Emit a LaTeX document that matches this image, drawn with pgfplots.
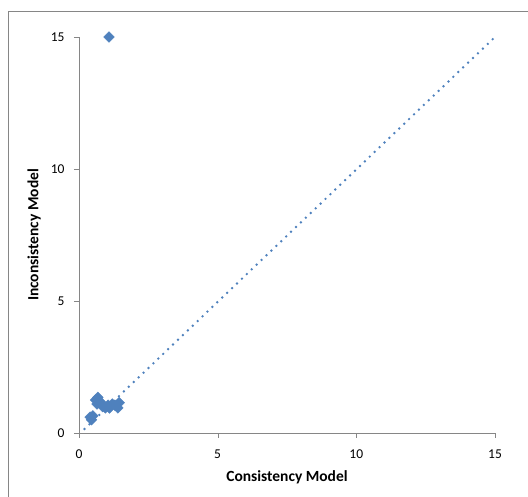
\documentclass[border=0pt]{standalone}
\usepackage{fontspec}
\setmainfont{Carlito}
\usepackage{pgfplots}
\pgfplotsset{compat=1.18}
\definecolor{xlblue}{HTML}{4F81BD}
\definecolor{axgray}{HTML}{868686}
\begin{document}
\begin{tikzpicture}[x=1pt,y=1pt]
\begin{axis}[
    at={(0,0)}, anchor=south west,
    scale only axis, width=416pt, height=396pt,
    xmin=0, xmax=15, ymin=0, ymax=15,
    axis lines=left, axis line style={axgray, -},
    xtick={0,5,10,15}, ytick={0,5,10,15},
    tick align=outside, major tick length=5pt,
    tick style={axgray},
    font=\fontsize{13.5}{15}\selectfont,
    /pgf/number format/assume math mode=true,
    xticklabel style={yshift=-8pt},
    yticklabel style={xshift=-6pt},
    xlabel={\textbf{Consistency Model}},
    ylabel={\textbf{Inconsistency Model}},
    label style={font=\fontsize{15.5}{17}\selectfont},
    xlabel style={yshift=-5pt},
    ylabel style={yshift=3pt},
    clip=false,
]
\addplot[xlblue, line width=2.7pt, line cap=round, dash pattern=on 0pt off 6.8pt]
    coordinates {(0.2,0.15) (15,15)};
\addplot[only marks, mark=square*, mark size=3.8pt,
    mark options={rotate=45, fill=xlblue, draw=xlblue}]
    coordinates {
    (0.40,0.60) (0.50,0.65) (0.45,0.50)
    (0.60,1.25) (0.68,1.35) (0.72,1.20) (0.65,1.10)
    (0.80,1.15) (0.85,1.00) (0.95,0.95) (1.05,1.05)
    (1.10,0.95) (1.20,1.10) (1.30,1.05) (1.40,0.95)
    (1.45,1.15) (1.08,15.0)
    };
\end{axis}
\draw[axgray, line width=0.8pt] (-71,-80) -- (-71,422) -- (460,422);
\pgfresetboundingbox
\path (-79,-64) rectangle (449,433);
\end{tikzpicture}
\end{document}
